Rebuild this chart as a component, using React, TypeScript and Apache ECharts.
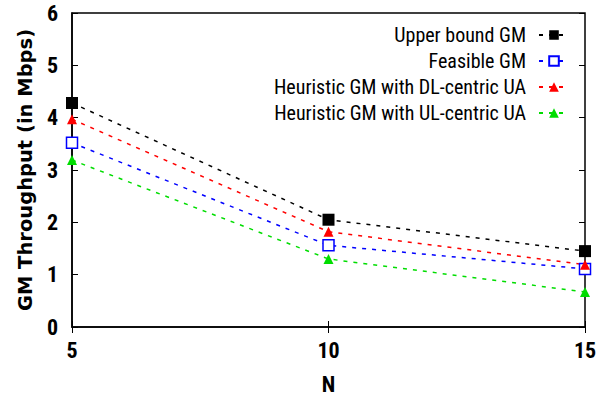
import React, { useEffect, useRef } from "react";
import * as echarts from "echarts";

const nValues = [5, 10, 15];
const upperBound = [4.28, 2.05, 1.45];
const feasible = [3.52, 1.56, 1.11];
const dlCentric = [3.97, 1.82, 1.19];
const ulCentric = [3.19, 1.3, 0.67];
const seriesNames = [
  "Upper bound GM",
  "Feasible GM",
  "Heuristic GM with DL-centric UA",
  "Heuristic GM with UL-centric UA",
];

const narrow = "'Roboto Condensed', 'Liberation Sans', sans-serif";

export default function App() {
  const ref = useRef<HTMLDivElement>(null);
  useEffect(() => {
    if (!ref.current) return;
    const chart = echarts.init(ref.current, undefined, { renderer: "svg" });
    const pairs = (vals: number[]) => nValues.map((n, i) => [n, vals[i]]);
    const mk = (
      name: string,
      vals: number[],
      color: string,
      symbol: string,
      size: number,
      hollow = false
    ) => ({
      name,
      type: "line",
      data: pairs(vals),
      symbol,
      symbolSize: size,
      showAllSymbol: true,
      clip: false,
      lineStyle: { color, width: 1.5, type: [4, 6] },
      itemStyle: hollow
        ? { color: "#fff", borderColor: color, borderWidth: 1.5 }
        : { color, borderWidth: 0 },
      z: 3,
    });
    const tickCommon = {
      axisTick: { show: true, inside: true, length: 6, lineStyle: { color: "#000", width: 1 } },
      splitLine: { show: false },
    };
    chart.setOption({
      animation: false,
      backgroundColor: "#fff",
      grid: {
        left: 72,
        right: 22,
        top: 13,
        bottom: 73,
        show: true,
        borderColor: "#000",
        borderWidth: 1.5,
        backgroundColor: "transparent",
      },
      legend: {
        orient: "vertical",
        right: 37,
        top: 25,
        padding: 0,
        align: "right",
        itemGap: 6,
        itemWidth: 30,
        itemHeight: 12,
        textStyle: { fontFamily: narrow, fontSize: 20, color: "#000", padding: [0, 8, 0, 0] },
        data: seriesNames,
      },
      xAxis: [
        {
          type: "value",
          min: 5,
          max: 15,
          interval: 5,
          name: "N",
          nameLocation: "middle",
          nameGap: 46,
          nameTextStyle: { fontFamily: narrow, fontWeight: "bold", fontSize: 22, color: "#000" },
          axisLine: { show: true, lineStyle: { color: "#000", width: 1.5 } },
          axisLabel: { fontFamily: narrow, fontWeight: "bold", fontSize: 22, color: "#000", margin: 12 },
          ...tickCommon,
        },
        {
          type: "value",
          position: "top",
          min: 5,
          max: 15,
          interval: 5,
          axisLine: { show: false },
          axisLabel: { show: false },
          ...tickCommon,
        },
      ],
      yAxis: [
        {
          type: "value",
          min: 0,
          max: 6,
          interval: 1,
          name: "GM Throughput (in Mbps)",
          nameLocation: "middle",
          nameGap: 37,
          nameTextStyle: { fontFamily: "'DejaVu Sans', sans-serif", fontWeight: "bold", fontSize: 19.5, color: "#000" },
          axisLine: { show: true, lineStyle: { color: "#000", width: 1.5 } },
          axisLabel: { fontFamily: narrow, fontWeight: "bold", fontSize: 22, color: "#000", margin: 14 },
          ...tickCommon,
        },
        {
          type: "value",
          position: "right",
          min: 0,
          max: 6,
          interval: 1,
          axisLine: { show: false },
          axisLabel: { show: false },
          ...tickCommon,
        },
      ],
      series: [
        mk(seriesNames[0], upperBound, "#000000", "rect", 12),
        mk(seriesNames[1], feasible, "#0000ff", "rect", 11, true),
        mk(seriesNames[2], dlCentric, "#ff0000", "triangle", 10),
        mk(seriesNames[3], ulCentric, "#00dd00", "triangle", 10),
      ],
    });
    return () => chart.dispose();
  }, []);
  return <div ref={ref} style={{ position: "fixed", left: 0, top: 0, width: 607, height: 400 }} />;
}
